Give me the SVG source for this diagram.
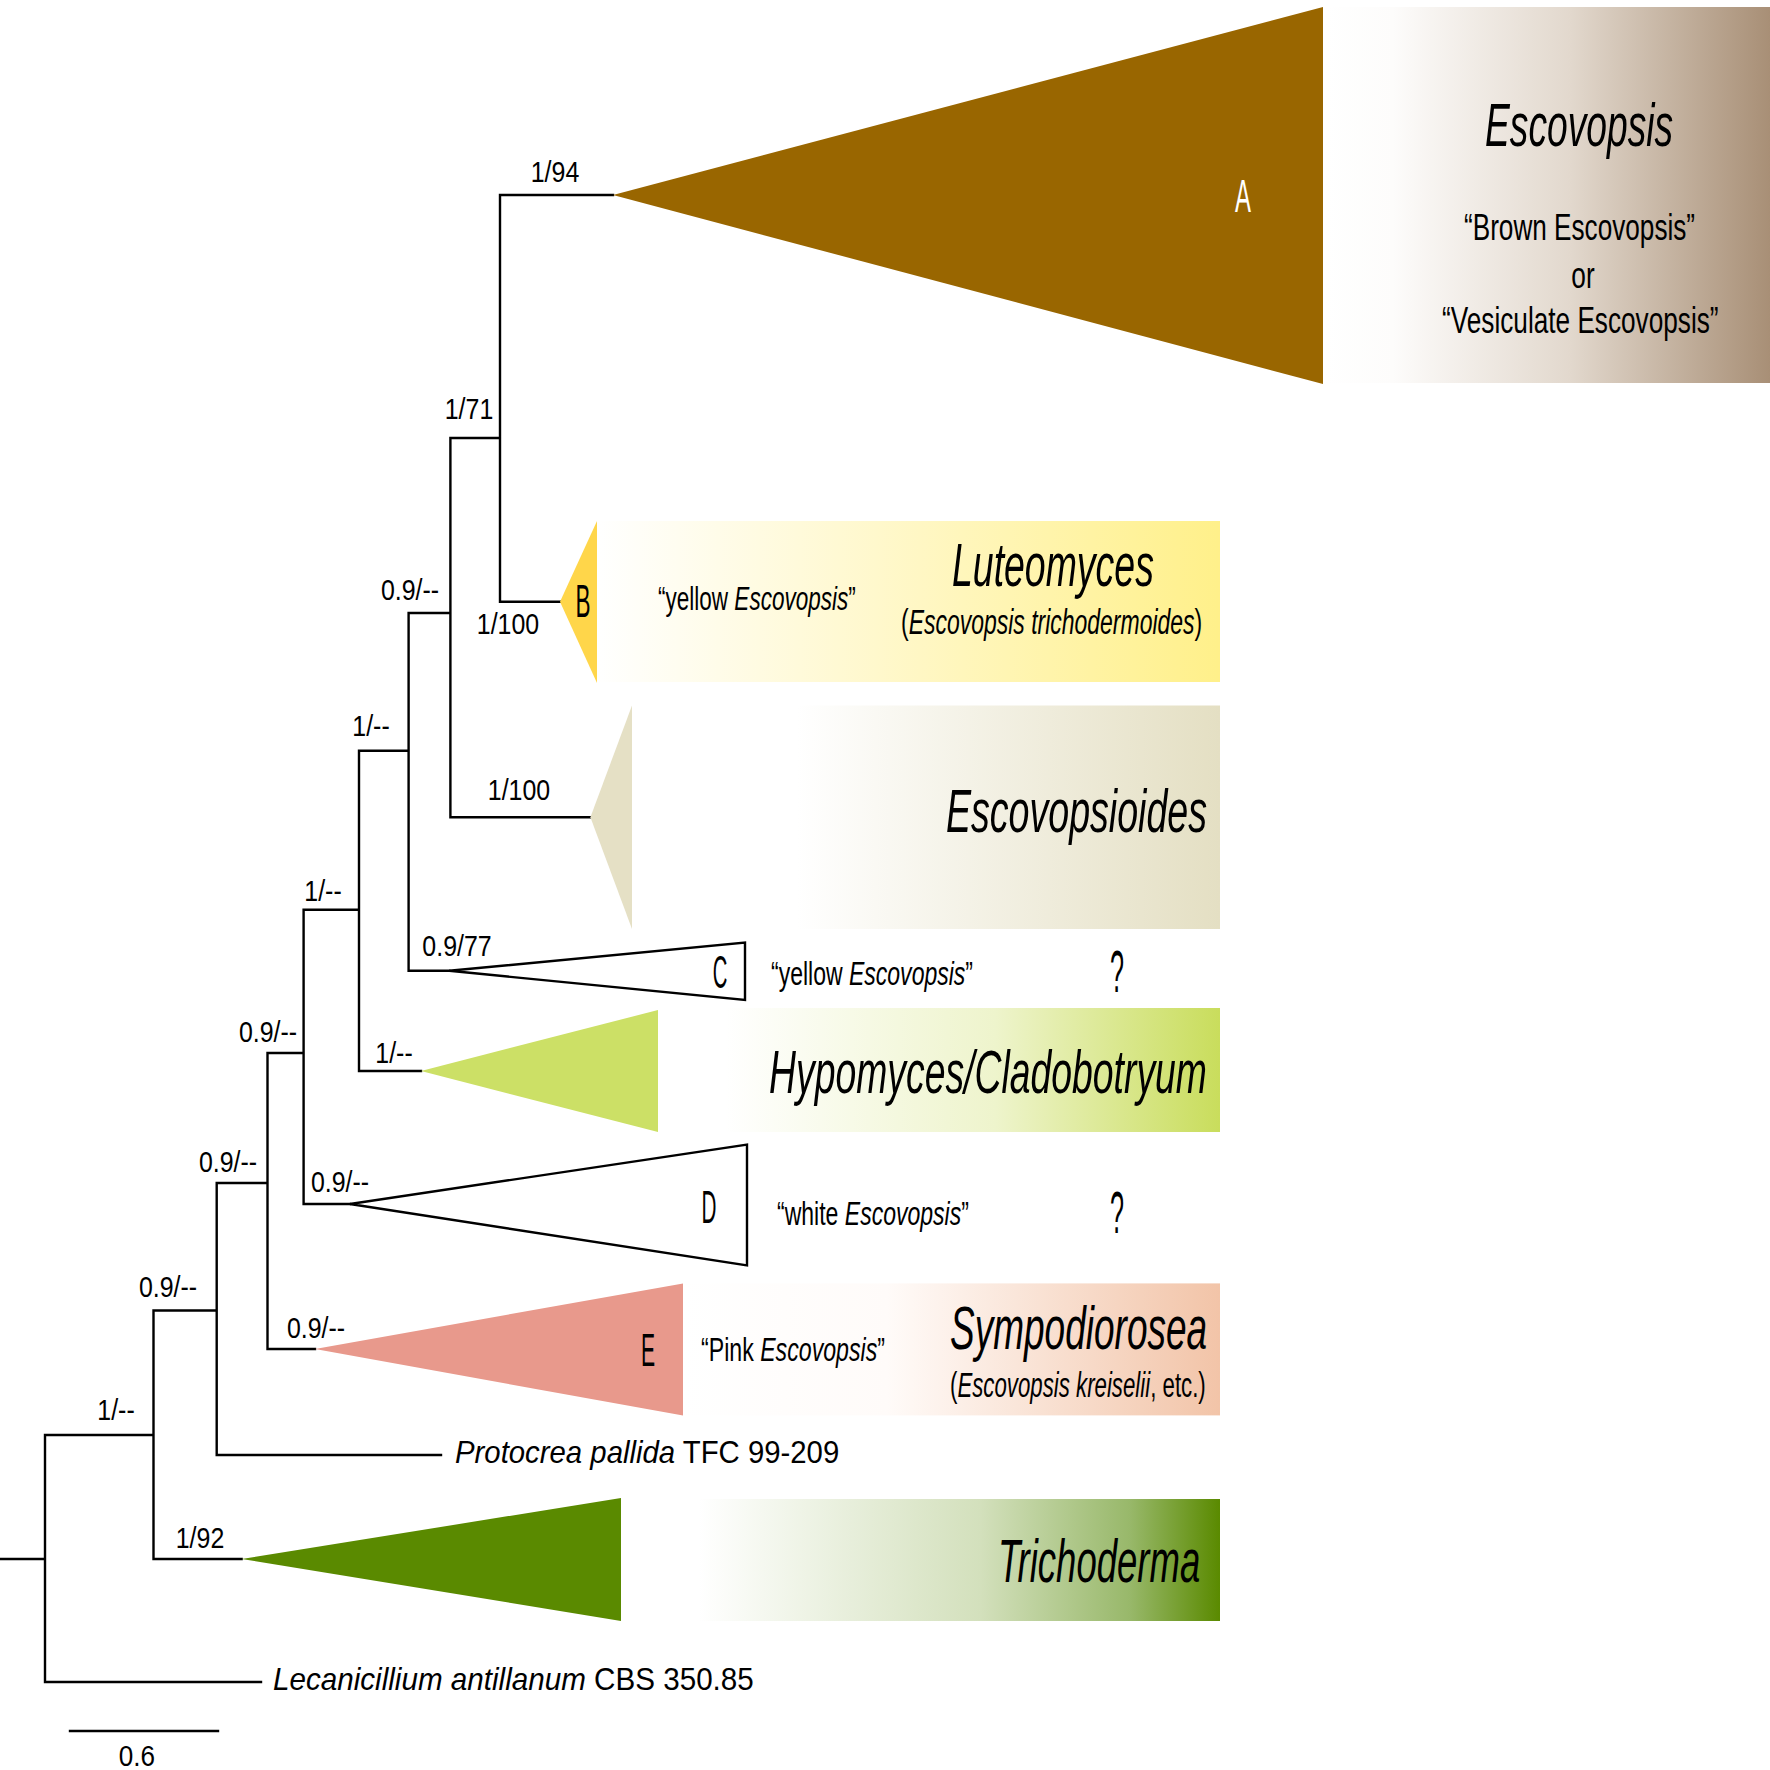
<svg xmlns="http://www.w3.org/2000/svg" width="1770" height="1770" viewBox="0 0 1770 1770">
<defs>
<linearGradient id="gA" x1="0" y1="0" x2="1" y2="0"><stop offset="0" stop-color="#ffffff"/><stop offset="0.15" stop-color="#fdfcfb"/><stop offset="0.55" stop-color="#e2d8cd"/><stop offset="1" stop-color="#a88f76"/></linearGradient>
<linearGradient id="gB" x1="0" y1="0" x2="1" y2="0"><stop offset="0" stop-color="#ffffff"/><stop offset="0.45" stop-color="#fff8cc"/><stop offset="1" stop-color="#fff08a"/></linearGradient>
<linearGradient id="gEs" x1="0" y1="0" x2="1" y2="0"><stop offset="0" stop-color="#ffffff"/><stop offset="0.28" stop-color="#ffffff"/><stop offset="1" stop-color="#e4dfc3"/></linearGradient>
<linearGradient id="gH" x1="0" y1="0" x2="1" y2="0"><stop offset="0" stop-color="#ffffff"/><stop offset="0.12" stop-color="#ffffff"/><stop offset="0.6" stop-color="#eef4cc"/><stop offset="1" stop-color="#c9dd5c"/></linearGradient>
<linearGradient id="gE" x1="0" y1="0" x2="1" y2="0"><stop offset="0" stop-color="#ffffff"/><stop offset="0.38" stop-color="#fffbf9"/><stop offset="1" stop-color="#f2c4a8"/></linearGradient>
<linearGradient id="gT" x1="0" y1="0" x2="1" y2="0"><stop offset="0" stop-color="#ffffff"/><stop offset="0.13" stop-color="#ffffff"/><stop offset="0.6" stop-color="#d3e0bc"/><stop offset="0.85" stop-color="#98b86a"/><stop offset="1" stop-color="#5a8a00"/></linearGradient>
</defs>
<style>
text{font-family:"Liberation Sans",Arial,sans-serif;fill:#000}
.s{font-size:29px;text-anchor:middle}
.big{font-size:62px;font-style:italic}
.mid{font-size:37px}
.mid2{font-size:36px}
.sm{font-size:34px}
.let{font-size:46px;text-anchor:middle}
.q{font-size:60px;text-anchor:middle}
.it{font-style:italic}
.tx{font-size:32px}
.br{fill:none;stroke:#000;stroke-width:2.4;stroke-linecap:square}
.open{fill:#fff;stroke:#000;stroke-width:2.4;stroke-linejoin:miter}
</style>
<rect width="1770" height="1770" fill="#fff"/>

<g id="connectors" class="br">
<path d="M0,1559H45M45,1435V1682M45,1682H261M45,1435H153.5M153.5,1310.5V1559M153.5,1559H241.6M153.5,1310.5H216.7M216.7,1183V1455M216.7,1455H441M216.7,1183H267.5M267.5,1053V1349M267.5,1349H315M267.5,1053H303.6M303.6,909.8V1204M303.6,1204H350M303.6,909.8H359M359,750.7V1071M359,1071H421M359,750.7H408.6M408.6,613V970.8M408.6,970.8H449.3M408.6,613H450.4M450.4,438V817.3M450.4,817.3H590.4M450.4,438H500M500,195V601.7M500,195H613M500,601.7H560"/>
</g>

<g id="support-labels">
<text class="s" transform="translate(555,182) scale(0.86,1)">1/94</text>
<text class="s" transform="translate(469,419) scale(0.86,1)">1/71</text>
<text class="s" transform="translate(508,634) scale(0.86,1)">1/100</text>
<text class="s" transform="translate(410,600) scale(0.86,1)">0.9/--</text>
<text class="s" transform="translate(519,800) scale(0.86,1)">1/100</text>
<text class="s" transform="translate(371,736) scale(0.86,1)">1/--</text>
<text class="s" transform="translate(457,956) scale(0.86,1)">0.9/77</text>
<text class="s" transform="translate(323,901) scale(0.86,1)">1/--</text>
<text class="s" transform="translate(394,1063) scale(0.86,1)">1/--</text>
<text class="s" transform="translate(268,1042) scale(0.86,1)">0.9/--</text>
<text class="s" transform="translate(340,1192) scale(0.86,1)">0.9/--</text>
<text class="s" transform="translate(228,1172) scale(0.86,1)">0.9/--</text>
<text class="s" transform="translate(316,1338) scale(0.86,1)">0.9/--</text>
<text class="s" transform="translate(168,1297) scale(0.86,1)">0.9/--</text>
<text class="s" transform="translate(116,1420) scale(0.86,1)">1/--</text>
<text class="s" transform="translate(200,1548) scale(0.86,1)">1/92</text>
</g>

<g id="clade-A">
<rect x="1326" y="7" width="444" height="376" fill="url(#gA)"/>
<polygon points="613,195 1323,7 1323,384" fill="#996600"/>
<text class="let" style="fill:#fff" transform="translate(1243,212) scale(0.52,1)">A</text>
<text class="big" transform="translate(1485,146) scale(0.6,1)">Escovopsis</text>
<text class="mid" transform="translate(1464,240) scale(0.707,1)">“Brown Escovopsis”</text>
<text class="mid" text-anchor="middle" transform="translate(1583,288) scale(0.71,1)">or</text>
<text class="mid" transform="translate(1442,333) scale(0.708,1)">“Vesiculate Escovopsis”</text>
</g>

<g id="clade-B">
<rect x="597" y="521" width="623" height="161" fill="url(#gB)"/>
<polygon points="560,601.7 597,521 597,683" fill="#ffd64a"/>
<text class="let" transform="translate(583,617) scale(0.49,1)">B</text>
<text class="sm" transform="translate(658,610) scale(0.663,1)">“yellow <tspan class="it">Escovopsis</tspan>”</text>
<text class="big" transform="translate(952,586) scale(0.604,1)">Luteomyces</text>
<text class="mid2" transform="translate(901,634) scale(0.638,1)">(<tspan class="it">Escovopsis trichodermoides</tspan>)</text>
</g>

<g id="clade-Escovopsioides">
<rect x="632" y="705.5" width="588" height="223.5" fill="url(#gEs)"/>
<polygon points="590.4,817.3 632,705.5 632,929" fill="#e5e0c5"/>
<text class="big" transform="translate(946,832) scale(0.606,1)">Escovopsioides</text>
</g>

<g id="clade-C">
<polygon class="open" points="449.3,970.8 745,942.5 745,1000"/>
<text class="let" transform="translate(720,988) scale(0.44,1)">C</text>
<text class="sm" transform="translate(771,985) scale(0.677,1)">“yellow <tspan class="it">Escovopsis</tspan>”</text>
<text class="q" transform="translate(1117,992) scale(0.42,1)">?</text>
</g>

<g id="clade-Hypomyces">
<rect x="658" y="1008" width="562" height="124" fill="url(#gH)"/>
<polygon points="421,1071 658,1010 658,1132" fill="#cce066"/>
<text class="big" transform="translate(769,1093) scale(0.6025,1)">Hypomyces/Cladobotryum</text>
</g>

<g id="clade-D">
<polygon class="open" points="350,1204 747,1144.6 747,1265.4"/>
<text class="let" transform="translate(709,1223) scale(0.45,1)">D</text>
<text class="sm" transform="translate(777,1225) scale(0.6775,1)">“white <tspan class="it">Escovopsis</tspan>”</text>
<text class="q" transform="translate(1117,1233) scale(0.42,1)">?</text>
</g>

<g id="clade-E">
<rect x="683" y="1283.4" width="537" height="132" fill="url(#gE)"/>
<polygon points="315,1349 683,1283.4 683,1415.5" fill="#e8998c"/>
<text class="let" transform="translate(648,1366) scale(0.46,1)">E</text>
<text class="sm" transform="translate(701,1361) scale(0.681,1)">“Pink <tspan class="it">Escovopsis</tspan>”</text>
<text class="big" transform="translate(950,1349) scale(0.597,1)">Sympodiorosea</text>
<text class="mid2" transform="translate(950,1397) scale(0.618,1)">(<tspan class="it">Escovopsis kreiselii</tspan>, etc.)</text>
</g>

<g id="taxon-Protocrea">
<text class="tx" transform="translate(455,1463) scale(0.917,1)"><tspan class="it">Protocrea pallida</tspan> TFC 99-209</text>
</g>

<g id="clade-Trichoderma">
<rect x="621" y="1499" width="599" height="122" fill="url(#gT)"/>
<polygon points="241.6,1559 621,1498 621,1621" fill="#5a8a00"/>
<text class="big" transform="translate(998,1582) scale(0.589,1)">Trichoderma</text>
</g>

<g id="taxon-Lecanicillium">
<text class="tx" transform="translate(273,1690) scale(0.926,1)"><tspan class="it">Lecanicillium antillanum</tspan> CBS 350.85</text>
</g>

<g id="scale-bar">
<path class="br" d="M70,1731H218"/>
<text class="s" transform="translate(137,1766) scale(0.9,1)">0.6</text>
</g>
</svg>
